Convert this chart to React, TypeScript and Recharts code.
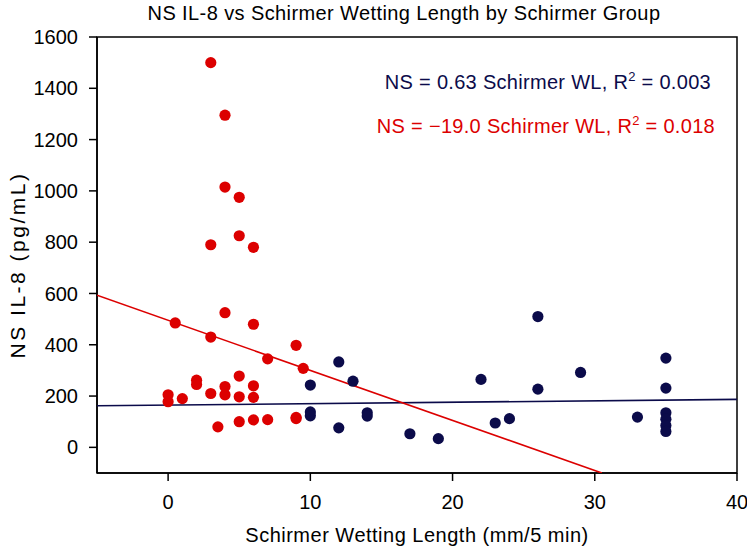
import { ComposedChart, Scatter, XAxis, YAxis, ReferenceArea, Customized } from 'recharts';

// low Schirmer group (red)
const lowX = [0.5, 3, 4, 6, 7, 5, 3, 6, 3, 4, 4, 5, 0, 0, 1, 2, 2, 3, 4, 4, 5, 5, 6, 6, 3.5, 5, 6, 7, 9, 9.5, 9, 9];
const lowY = [485, 430, 525, 480, 345, 825, 790, 780, 1500, 1295, 1015, 975, 205, 178, 190, 262, 245, 210, 237, 205, 278, 197, 240, 195, 80, 100, 107, 108, 398, 308, 117, 112];

// normal Schirmer group (navy)
const normX = [10, 10, 10, 12, 12, 13, 14, 14, 17, 19, 22, 23, 24, 26, 26, 29, 33, 35, 35, 35, 35, 35, 35];
const normY = [243, 138, 123, 333, 76, 258, 135, 122, 53, 34, 265, 95, 112, 510, 227, 292, 118, 348, 231, 135, 110, 85, 62];

// regression line end points
const lowFitX = [-5, 30.5];
const lowFitY = [593, -100];
const normFitX = [-5, 40];
const normFitY = [162, 187];

const xTicks = [0, 10, 20, 30, 40];
const yTicks = [0, 200, 400, 600, 800, 1000, 1200, 1400, 1600];

const RED = '#dc0000';
const NAVY = '#0b0b4a';
const FONT = '"Liberation Sans", Arial, sans-serif';

const zip = (xs: number[], ys: number[]) => xs.map((x, i) => ({ x, y: ys[i] }));

const lowData = zip(lowX, lowY);
const normData = zip(normX, normY);
const lowFit = zip(lowFitX, lowFitY);
const normFit = zip(normFitX, normFitY);

const dot = (color: string) => (p: any) => <circle cx={p.cx} cy={p.cy} r={5.6} fill={color} />;
const noDot = () => <g />;

const Texts = () => (
  <g fontFamily={FONT}>
    <text x={404} y={20} textAnchor="middle" fontSize={20} letterSpacing={0.4} fill="#000">
      NS IL-8 vs Schirmer Wetting Length by Schirmer Group
    </text>
    <text x={711} y={89} textAnchor="end" fontSize={20} letterSpacing={0.3} fill={NAVY}>
      NS = 0.63 Schirmer WL, R<tspan fontSize={13} dy={-8}>2</tspan>
      <tspan dy={8}> = 0.003</tspan>
    </text>
    <text x={715} y={133} textAnchor="end" fontSize={20} letterSpacing={0.3} fill={RED}>
      NS = −19.0 Schirmer WL, R<tspan fontSize={13} dy={-8}>2</tspan>
      <tspan dy={8}> = 0.018</tspan>
    </text>
    <text x={417} y={542} textAnchor="middle" fontSize={20} letterSpacing={0.5} fill="#000">
      Schirmer Wetting Length (mm/5 min)
    </text>
    <text x={25} y={265} textAnchor="middle" fontSize={21} letterSpacing={2.5} fill="#000" transform="rotate(-90 25 265)">
      NS IL-8 (pg/mL)
    </text>
  </g>
);

export default function App() {
  return (
    <div style={{ position: 'absolute', left: 0, top: 0 }}>
      <ComposedChart width={747} height={547} margin={{ top: 37, right: 10, left: 37, bottom: 34 }}>
        <XAxis
          type="number"
          dataKey="x"
          domain={[-5, 40]}
          ticks={xTicks}
          allowDataOverflow
          height={40}
          tickSize={8}
          tickMargin={14}
          stroke="#000"
          strokeWidth={1.5}
          tick={{ fill: '#000', fontSize: 20, fontFamily: FONT }}
        />
        <YAxis
          type="number"
          dataKey="y"
          domain={[-100, 1600]}
          ticks={yTicks}
          allowDataOverflow
          width={60}
          tickSize={8}
          tickMargin={11}
          stroke="#000"
          strokeWidth={1.5}
          tick={{ fill: '#000', fontSize: 20, fontFamily: FONT }}
        />
        <Scatter data={normFit} line={{ stroke: NAVY, strokeWidth: 1.6 }} shape={noDot} isAnimationActive={false} />
        <Scatter data={lowFit} line={{ stroke: RED, strokeWidth: 1.6 }} shape={noDot} isAnimationActive={false} />
        <Scatter data={lowData} shape={dot(RED)} isAnimationActive={false} />
        <Scatter data={normData} shape={dot(NAVY)} isAnimationActive={false} />
        <ReferenceArea x1={-5} x2={40} y1={-100} y2={1600} fill="none" stroke="#000" strokeWidth={1.5} ifOverflow="visible" />
        <Customized component={Texts} />
      </ComposedChart>
    </div>
  );
}
